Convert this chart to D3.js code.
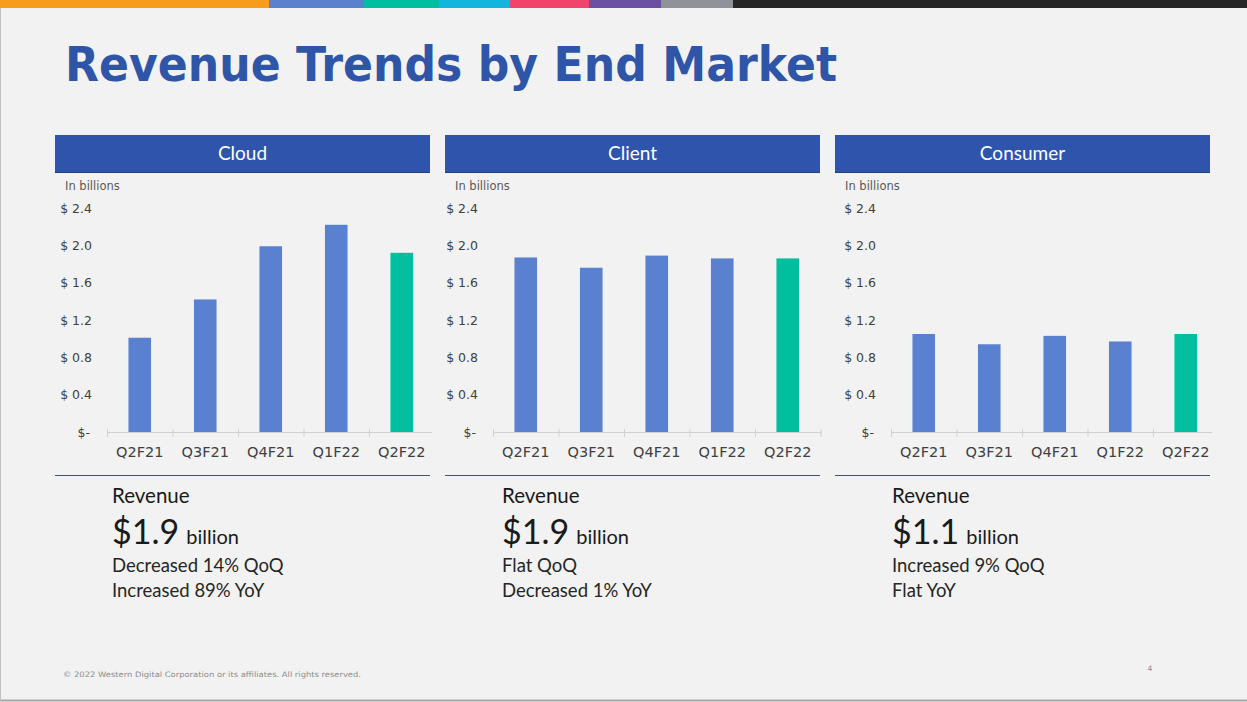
<!DOCTYPE html>
<html>
<head>
<meta charset="utf-8">
<script src="https://cdn.jsdelivr.net/npm/d3@7"></script>
<style>
  html, body { margin: 0; padding: 0; background: #F2F2F2; }
  svg { display: block; }
</style>
</head>
<body>
<svg id="chart" width="1247" height="702"></svg>
<script>
// ---------- data ----------
const categories = ["Q2F21", "Q3F21", "Q4F21", "Q1F22", "Q2F22"];
const cloudValues = [1.01, 1.42, 1.99, 2.22, 1.92];
const clientValues = [1.87, 1.76, 1.89, 1.86, 1.86];
const consumerValues = [1.05, 0.94, 1.03, 0.97, 1.05];
const yTickValues = [0, 0.4, 0.8, 1.2, 1.6, 2.0, 2.4];
const yTickLabels = ["$-", "$ 0.4", "$ 0.8", "$ 1.2", "$ 1.6", "$ 2.0", "$ 2.4"];
const panelTitles = ["Cloud", "Client", "Consumer"];
const revenueAmounts = ["$1.9", "$1.9", "$1.1"];
const qoqTexts = ["Decreased 14% QoQ", "Flat QoQ", "Increased 9% QoQ"];
const yoyTexts = ["Increased 89% YoY", "Decreased 1% YoY", "Flat YoY"];
const stripeColors = ["#F89C1C", "#5B80CE", "#00BFA0", "#12B5DD", "#F2436A", "#6A4FA3", "#8F9399", "#262626"];
const stripeEnds = [269, 364, 439, 510, 589, 661, 733, 1247];

// ---------- layout ----------
const svg = d3.select("#chart");
const W = 1247, H = 702;
const blue = "#2E55AB";
const barBlue = "#5A80D0";
const teal = "#00BF9F";

svg.append("rect").attr("width", W).attr("height", H).attr("fill", "#F2F2F2");

// top colour stripe
const stripeX = d3.scaleLinear().domain([0, 1247]).range([0, W]);
svg.append("g").selectAll("rect").data(stripeColors).join("rect")
  .attr("x", (d, i) => stripeX(i === 0 ? 0 : stripeEnds[i - 1]))
  .attr("width", (d, i) => stripeX(stripeEnds[i]) - stripeX(i === 0 ? 0 : stripeEnds[i - 1]))
  .attr("y", 0).attr("height", 8).attr("fill", d => d);

// frame lines
svg.append("line").attr("x1", 0).attr("x2", W).attr("y1", 700.5).attr("y2", 700.5)
  .attr("stroke", "#A6A6A6").attr("stroke-width", 2);
svg.append("line").attr("x1", 0.5).attr("x2", 0.5).attr("y1", 8).attr("y2", H)
  .attr("stroke", "#BFBFBF").attr("stroke-width", 1);

// title
svg.append("text").attr("x", 65).attr("y", 81)
  .attr("font-family", "'DejaVu Sans', sans-serif").attr("font-weight", "bold")
  .attr("font-size", 48).attr("fill", "#2F55A8")
  .attr("textLength", 772).attr("lengthAdjust", "spacingAndGlyphs")
  .text("Revenue Trends by End Market");

const panels = [
  { left: 55, axisLeft: 107, values: cloudValues },
  { left: 445, axisLeft: 493, values: clientValues },
  { left: 835, axisLeft: 891, values: consumerValues }
];
const panelWidth = 375;
const step = 65.5;
const yTop = 208, yBottom = 432;

panels.forEach((p, pi) => {
  const g = svg.append("g");
  const right = p.left + panelWidth;

  // header bar
  g.append("rect").attr("x", p.left).attr("y", 135).attr("width", panelWidth).attr("height", 38)
    .attr("fill", blue);
  g.append("line").attr("x1", p.left).attr("x2", right).attr("y1", 172.5).attr("y2", 172.5)
    .attr("stroke", "#243F7E").attr("stroke-width", 1);
  g.append("text").attr("x", p.left + panelWidth / 2).attr("y", 160)
    .attr("text-anchor", "middle").attr("fill", "#FFFFFF")
    .attr("font-family", "Lato, 'Open Sans', sans-serif").attr("font-size", 19)
    .text(panelTitles[pi]);

  // "In billions"
  g.append("text").attr("x", p.left + 10).attr("y", 190)
    .attr("font-family", "'DejaVu Sans', sans-serif").attr("font-size", 11.5)
    .attr("fill", "#595959").text("In billions");

  const x = d3.scaleBand().domain(categories).range([p.axisLeft, p.axisLeft + step * categories.length])
    .paddingInner(0.655).paddingOuter(0.3275);
  const y = d3.scaleLinear().domain([0, 2.4]).range([yBottom, yTop]);

  // bars
  g.append("g").selectAll("rect").data(p.values).join("rect")
    .attr("x", (d, i) => x(categories[i]))
    .attr("width", x.bandwidth())
    .attr("y", d => y(d))
    .attr("height", d => y(0) - y(d))
    .attr("fill", (d, i) => i === categories.length - 1 ? teal : barBlue);

  // y axis labels
  const yAxis = d3.axisLeft(y).tickValues(yTickValues)
    .tickFormat((d, i) => yTickLabels[i]).tickSize(0).tickPadding(15);
  const ya = g.append("g").attr("transform", `translate(${p.axisLeft},0)`).call(yAxis);
  ya.select(".domain").remove();
  ya.selectAll("text")
    .attr("font-family", "'DejaVu Sans', sans-serif").attr("font-size", 12.5)
    .attr("fill", "#404040")
    .attr("dx", (d, i) => i === 0 ? -2 : 0);

  // x axis
  const xAxis = d3.axisBottom(x).tickSize(0).tickPadding(15);
  const xa = g.append("g").attr("transform", `translate(0,${yBottom})`).call(xAxis);
  xa.select(".domain").attr("stroke", "#D0D0D0").attr("d", `M${p.axisLeft},0.5H${right + 2}`);
  xa.selectAll("text")
    .attr("font-family", "'DejaVu Sans', sans-serif").attr("font-size", 14.5)
    .attr("fill", "#404040");
  // boundary tick marks
  const bounds = categories.map(c => x(c) - x.step() * x.paddingInner() / 2)
    .concat([x.range()[1]]).filter(b => b <= right + 2);
  bounds[0] = p.axisLeft;
  xa.append("g").selectAll("line").data(bounds).join("line")
    .attr("x1", d => d + 0.5).attr("x2", d => d + 0.5)
    .attr("y1", -3).attr("y2", 5)
    .attr("stroke", "#D0D0D0");

  // separator line
  g.append("line").attr("x1", p.left).attr("x2", right)
    .attr("y1", 475.5).attr("y2", 475.5).attr("stroke", "#44546A").attr("stroke-width", 1);

  // text block
  const tx = p.left + 57;
  const font = "Lato, 'Open Sans', sans-serif";
  g.append("text").attr("x", tx).attr("y", 503).attr("font-family", font)
    .attr("font-size", 20.5).attr("fill", "#1A1A1A").text("Revenue");
  const big = g.append("text").attr("x", tx).attr("y", 544).attr("font-family", font).attr("fill", "#1A1A1A");
  big.append("tspan").attr("font-size", 34).text(revenueAmounts[pi]);
  big.append("tspan").attr("font-size", 20).attr("dx", 7).text("billion");
  g.append("text").attr("x", tx).attr("y", 572).attr("font-family", font)
    .attr("font-size", 18.5).attr("fill", "#262626").text(qoqTexts[pi]);
  g.append("text").attr("x", tx).attr("y", 597).attr("font-family", font)
    .attr("font-size", 18.5).attr("fill", "#262626").text(yoyTexts[pi]);
});

// footer
svg.append("text").attr("x", 63).attr("y", 677)
  .attr("font-family", "'DejaVu Sans', sans-serif").attr("font-size", 7.5)
  .attr("fill", "#8C8C8C").attr("textLength", 298).attr("lengthAdjust", "spacingAndGlyphs")
  .text("© 2022 Western Digital Corporation or its affiliates. All rights reserved.");
svg.append("text").attr("x", 1150).attr("y", 671)
  .attr("font-family", "'DejaVu Sans', sans-serif").attr("font-size", 7.5)
  .attr("fill", "#8C8C8C").attr("text-anchor", "middle").text("4");
</script>
</body>
</html>
